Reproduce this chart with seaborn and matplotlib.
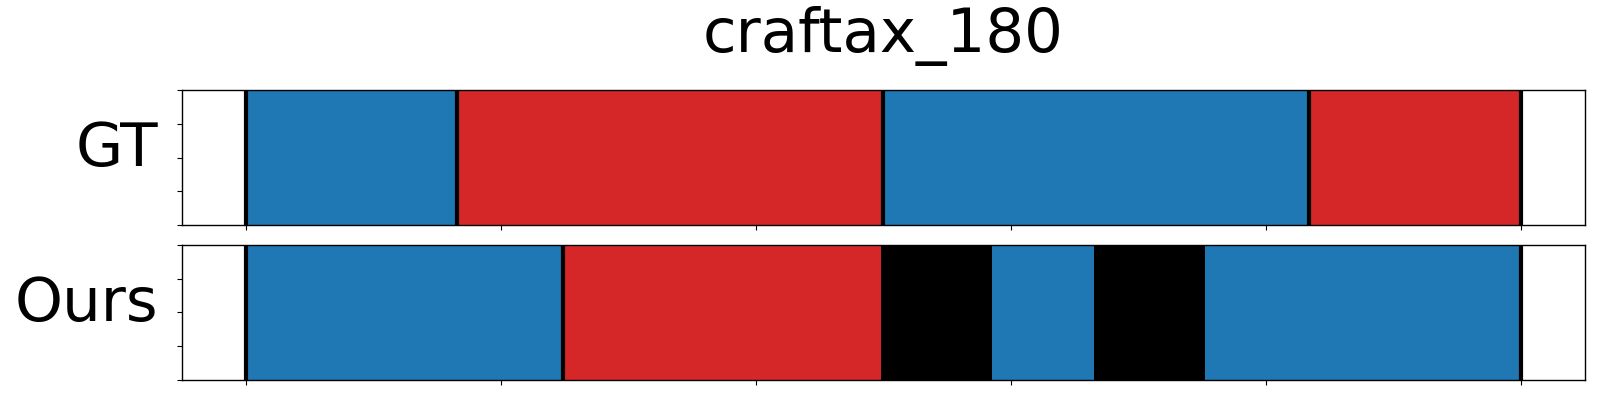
import numpy as np
import pandas as pd
import matplotlib
matplotlib.use("Agg")
import matplotlib.pyplot as plt
import seaborn as sns

# segment boundaries on a normalised timeline (0 -> 1) and their labels
gt_edges = [0.0, 0.166, 0.4995, 0.8335, 1.0]
gt_labels = ["blue", "red", "blue", "red"]

ours_edges = [0.0, 0.249, 0.498, 0.585, 0.665, 0.752, 1.0]
ours_labels = ["blue", "red", "black", "blue", "black", "blue"]

# black separators drawn on top of the segments
gt_lines = [0.0, 0.166, 0.4995, 0.8335, 1.0]
ours_lines = [0.0, 0.249, 1.0]

title = "craftax_180"
row_names = ["GT", "Ours"]

palette = {"blue": "#1f77b4", "red": "#d62728", "black": "#000000"}

sns.set_style("ticks")
plt.rcParams["font.family"] = ["DejaVu Sans"]
plt.rcParams.update({
    "text.color": "black",
    "axes.edgecolor": "black",
    "axes.labelcolor": "black",
    "xtick.color": "black",
    "ytick.color": "black",
})

fig, axes = plt.subplots(2, 1, figsize=(16, 4), dpi=100, sharex=True)
fig.subplots_adjust(left=0.1136, right=0.9906, top=0.775, bottom=0.05, hspace=0.148)


def draw_row(ax, edges, labels, lines, name):
    e = np.asarray(edges)
    df = pd.DataFrame({
        "mid": (e[:-1] + e[1:]) / 2,
        "w": np.ones(len(labels)),
        "label": labels,
    })
    sns.histplot(data=df, x="mid", weights="w", bins=list(edges), hue="label",
                 palette=palette, multiple="stack", alpha=1, linewidth=0,
                 legend=False, ax=ax)
    for x in lines:
        ax.axvline(x, color="black", lw=3, zorder=3)
    ax.set_xlim(-0.05, 1.05)
    ax.set_ylim(0, 1)
    ax.set_yticks(np.linspace(0, 1, 5))
    ax.set_xticks(np.linspace(0, 1, 6))
    ax.set_yticklabels([])
    ax.tick_params(labelbottom=False)
    ax.set_xlabel("")
    ax.set_ylabel(name, fontsize=44, rotation=0, ha="right", va="center")
    ax.yaxis.set_label_coords(-0.017, 0.56)
    for s in ax.spines.values():
        s.set_visible(True)
        s.set_linewidth(1.0)
        s.set_color("black")


draw_row(axes[0], gt_edges, gt_labels, gt_lines, row_names[0])
draw_row(axes[1], ours_edges, ours_labels, ours_lines, row_names[1])

axes[0].set_title(title, fontsize=44, pad=27)

plt.savefig("out.png", dpi=100)
